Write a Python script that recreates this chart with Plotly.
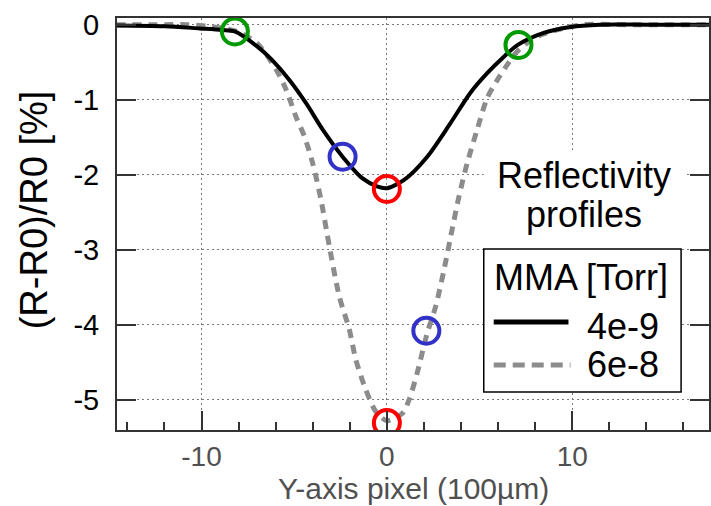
import plotly.graph_objects as go

# Reflectivity change profiles across the beam, Y-axis pixel units (100 µm)
x_low = [-14.6, -12.0, -10.1, -8.9, -8.2, -7.0, -6.2, -5.25, -4.35, -3.46, -2.39,
         -1.31, -0.5, 0.0, 0.93, 2.18, 3.44, 4.5, 5.4, 6.3, 7.06, 8.46, 9.9, 11.5,
         14.0, 17.4]
r_low = [-0.01, -0.02, -0.05, -0.07, -0.09, -0.29, -0.47, -0.74, -1.05, -1.40, -1.76,
         -2.05, -2.16, -2.18, -2.07, -1.76, -1.31, -0.91, -0.65, -0.43, -0.27, -0.11,
         -0.03, 0.0, 0.0, 0.0]

x_high = [-14.6, -12.0, -10.8, -9.7, -8.1, -7.0, -5.97, -5.43, -4.9, -4.45, -4.0,
          -3.55, -3.1, -2.56, -2.03, -1.67, -1.13, -0.59, 0.0, 0.84, 1.2, 1.65, 2.18,
          2.63, 3.08, 3.44, 3.89, 4.33, 4.87, 5.41, 5.95, 6.48, 7.02, 7.92, 9.17,
          10.6, 13.0, 17.4]
r_high = [0.0, 0.0, 0.0, -0.02, -0.09, -0.25, -0.6, -0.87, -1.23, -1.49, -1.85,
          -2.34, -2.96, -3.63, -4.06, -4.47, -4.87, -5.16, -5.28, -5.18, -5.0, -4.63,
          -4.11, -3.76, -3.27, -2.83, -2.29, -1.85, -1.40, -0.98, -0.74, -0.54, -0.36,
          -0.18, -0.07, 0.0, 0.0, 0.0]

# Highlighted points on the profiles
mark_x = [-8.2, 7.1, -2.39, 2.13, 0.0, 0.0]
mark_y = [-0.09, -0.27, -1.76, -4.08, -2.19, -5.31]
mark_colors = ["#009a00", "#009a00", "#3232c8", "#3232c8", "#ff0000", "#ff0000"]

legend_title = "MMA [Torr]"
legend_labels = ["4e-9", "6e-8"]

x_ticks = [-10, 0, 10]
x_ticktext = ["-10", "0", "10"]
y_ticks = [0, -1, -2, -3, -4, -5]
y_ticktext = ["0", "-1", "-2", "-3", "-4", "-5"]

W, H = 711, 506
L, R, T, B = 117, 711, 18, 430
FONT = "Liberation Sans, Arial, sans-serif"
GRAY = "#8c8c8c"
AXIS = "#333333"


def px(xp):
    return (xp - L) / (R - L)


def py(yp):
    return (B - yp) / (B - T)


fig = go.Figure()
fig.add_trace(go.Scatter(x=x_high, y=r_high, mode="lines",
                         line=dict(color=GRAY, width=5, dash="9px,7px",
                                   shape="spline", smoothing=0.8)))
fig.add_trace(go.Scatter(x=x_low, y=r_low, mode="lines",
                         line=dict(color="black", width=4,
                                   shape="spline", smoothing=0.8)))
fig.add_trace(go.Scatter(x=mark_x, y=mark_y, mode="markers",
                         marker=dict(symbol="circle-open", size=26,
                                     color=mark_colors,
                                     line=dict(width=4, color=mark_colors))))

shapes = [
    # white backing behind the caption
    dict(type="rect", xref="paper", yref="paper", layer="above",
         x0=px(485), x1=px(688), y0=py(249), y1=py(152),
         fillcolor="white", line=dict(width=0)),
    # legend frame
    dict(type="rect", xref="paper", yref="paper", layer="above",
         x0=px(485), x1=px(683), y0=py(392), y1=py(249),
         fillcolor="white", line=dict(color="black", width=1.5)),
    dict(type="line", xref="paper", yref="paper", layer="above",
         x0=px(495), x1=px(570), y0=py(322), y1=py(322),
         line=dict(color="black", width=5)),
    dict(type="line", xref="paper", yref="paper", layer="above",
         x0=px(495), x1=px(572), y0=py(365), y1=py(365),
         line=dict(color=GRAY, width=5, dash="12px,7px")),
]

annotations = [
    dict(text="(R-R0)/R0 [%]", textangle=-90, x=px(34), y=py(210),
         font=dict(size=38, color="black", family=FONT)),
    dict(text="Y-axis pixel (100µm)", x=px(414), y=py(488),
         font=dict(size=30, color="#505050", family=FONT)),
    dict(text="Reflectivity", x=px(586), y=py(175),
         font=dict(size=36, color="black", family=FONT)),
    dict(text="profiles", x=px(586), y=py(214),
         font=dict(size=36, color="black", family=FONT)),
    dict(text=legend_title, x=px(583), y=py(277),
         font=dict(size=36, color="black", family=FONT)),
    dict(text=legend_labels[0], x=px(663), y=py(326), xanchor="right",
         font=dict(size=36, color="black", family=FONT)),
    dict(text=legend_labels[1], x=px(663), y=py(364), xanchor="right",
         font=dict(size=36, color="black", family=FONT)),
]
for a in annotations:
    a.update(xref="paper", yref="paper", showarrow=False)
    a.setdefault("xanchor", "center")
    a.setdefault("yanchor", "middle")

fig.update_layout(
    width=W, height=H,
    margin=dict(l=L, r=W - R, t=T, b=H - B, pad=0),
    paper_bgcolor="white", plot_bgcolor="white",
    showlegend=False,
    shapes=shapes,
    annotations=annotations,
    font=dict(family=FONT),
)

fig.update_xaxes(
    range=[-14.56, 17.38], tickvals=x_ticks, ticktext=x_ticktext,
    ticks="inside", ticklen=19, tickwidth=2, tickcolor=AXIS,
    minor=dict(dtick=2, tick0=0, ticks="inside", ticklen=8, tickwidth=2,
               tickcolor=AXIS, showgrid=False),
    showline=True, linecolor=AXIS, linewidth=2, mirror=True,
    showgrid=True, gridcolor="#7a7a7a", gridwidth=1, griddash="2px,3px",
    zeroline=False, tickfont=dict(size=28, color="#505050", family=FONT),
    ticklabelstandoff=0,
)
fig.update_yaxes(
    range=[-5.404, 0.089], tickvals=y_ticks, ticktext=y_ticktext,
    ticks="inside", ticklen=19, tickwidth=2, tickcolor=AXIS,
    showline=True, linecolor=AXIS, linewidth=2, mirror="ticks",
    showgrid=True, gridcolor="#7a7a7a", gridwidth=1, griddash="2px,3px",
    zeroline=False, tickfont=dict(size=29, color="black", family=FONT),
    ticklabelstandoff=10,
)

fig.write_html("out.html")
